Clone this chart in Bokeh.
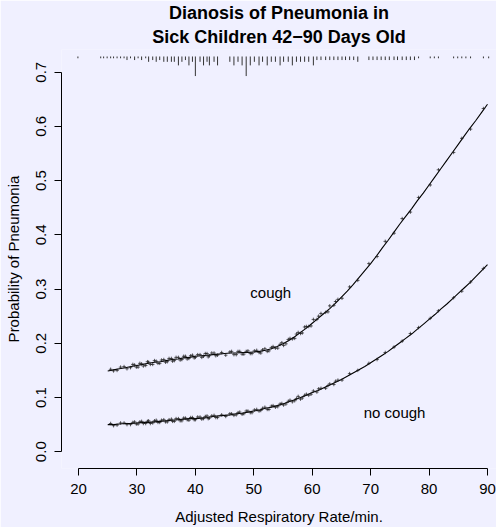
from bokeh.plotting import figure
from bokeh.models import Range1d, FixedTicker, PrintfTickFormatter, Title
from bokeh.core.properties import value
from bokeh.embed import file_html
from bokeh.resources import INLINE

# Fitted probability of pneumonia vs adjusted respiratory rate
rate_grid = list(range(25, 91))
p_cough = [0.149, 0.151, 0.153, 0.155, 0.157, 0.159, 0.161, 0.163, 0.165, 0.166,
           0.168, 0.170, 0.171, 0.173, 0.174, 0.176, 0.177, 0.178, 0.179, 0.180,
           0.181, 0.182, 0.182, 0.183, 0.183, 0.184, 0.185, 0.187, 0.190, 0.194,
           0.199, 0.205, 0.212, 0.220, 0.228, 0.237, 0.246, 0.255, 0.264, 0.274,
           0.285, 0.296, 0.308, 0.321, 0.334, 0.347, 0.361, 0.376, 0.390, 0.405,
           0.420, 0.434, 0.448, 0.463, 0.477, 0.492, 0.507, 0.522, 0.537, 0.552,
           0.567, 0.582, 0.597, 0.611, 0.626, 0.641]
p_no_cough = [0.050, 0.050, 0.051, 0.052, 0.052, 0.053, 0.054, 0.054, 0.055, 0.056,
              0.057, 0.058, 0.059, 0.060, 0.061, 0.061, 0.062, 0.063, 0.065, 0.066,
              0.067, 0.068, 0.070, 0.071, 0.073, 0.075, 0.077, 0.080, 0.082, 0.085,
              0.088, 0.092, 0.096, 0.100, 0.104, 0.109, 0.113, 0.118, 0.123, 0.128,
              0.133, 0.139, 0.145, 0.151, 0.157, 0.164, 0.171, 0.178, 0.185, 0.193,
              0.201, 0.209, 0.217, 0.226, 0.235, 0.244, 0.253, 0.263, 0.272, 0.282,
              0.292, 0.302, 0.312, 0.323, 0.334, 0.345]

# Individual children: rate and their predicted probabilities
obs_rate = [25.5, 26.6, 27.8, 28.9, 29.6, 30.2, 30.8, 31.5, 32.0, 32.7, 33.3, 33.9,
            34.6, 35.2, 35.9, 36.4, 37.1, 37.7, 38.3, 38.9, 39.5, 40.0, 40.8, 41.4,
            42.0, 42.4, 43.2, 43.8, 45.9, 46.6, 47.3, 48.0, 48.7, 49.4, 50.1, 50.9,
            51.5, 52.3, 53.0, 53.7, 54.5, 55.1, 55.9, 56.6, 57.3, 58.0, 58.7, 59.4,
            60.2, 60.8, 61.5, 62.3, 63.0, 63.7, 64.4, 65.1, 66.4, 67.8, 69.7, 71.1,
            72.5, 74.0, 75.4, 76.8, 78.2, 80.2, 81.6, 84.2, 85.6, 87.1, 89.3,
            26.0, 27.2, 28.3, 29.3, 29.9, 30.5, 31.1, 31.8, 32.3, 33.0, 33.6, 34.2,
            34.9, 35.5, 36.1, 36.7, 37.4, 38.0, 38.6, 39.2, 39.8, 40.4, 41.1, 41.7,
            42.2, 42.8, 43.5, 44.5, 45.2, 46.2, 47.0, 47.6, 48.3, 49.0, 49.7, 50.5,
            51.2, 51.9, 52.6, 53.3, 54.1, 54.8, 55.5, 56.2, 57.0, 57.6, 58.3, 59.0,
            59.8, 61.1, 62.7, 64.0]
obs_p_cough = [0.152, 0.150, 0.157, 0.155, 0.160, 0.156, 0.162, 0.159, 0.165, 0.161,
               0.167, 0.163, 0.170, 0.166, 0.172, 0.168, 0.174, 0.170, 0.176, 0.172,
               0.178, 0.174, 0.179, 0.176, 0.181, 0.177, 0.182, 0.178, 0.184, 0.179,
               0.185, 0.180, 0.185, 0.181, 0.186, 0.183, 0.188, 0.185, 0.192, 0.191,
               0.198, 0.196, 0.207, 0.208, 0.217, 0.218, 0.230, 0.231, 0.244, 0.244,
               0.255, 0.257, 0.269, 0.270, 0.281, 0.283, 0.304, 0.316, 0.347, 0.360,
               0.388, 0.403, 0.430, 0.442, 0.469, 0.492, 0.520, 0.552, 0.578, 0.595,
               0.633,
               0.149, 0.156, 0.153, 0.161, 0.156, 0.163, 0.158, 0.166, 0.161, 0.168,
               0.163, 0.169, 0.165, 0.172, 0.167, 0.174, 0.169, 0.176, 0.171, 0.177,
               0.173, 0.179, 0.174, 0.181, 0.175, 0.182, 0.177, 0.183, 0.178, 0.185,
               0.179, 0.185, 0.180, 0.186, 0.181, 0.187, 0.182, 0.190, 0.186, 0.194,
               0.191, 0.201, 0.199, 0.209, 0.209, 0.220, 0.219, 0.231, 0.232, 0.250,
               0.258, 0.277]
obs_p_no_cough = [0.052, 0.049, 0.053, 0.050, 0.055, 0.051, 0.056, 0.052, 0.057, 0.053,
                  0.058, 0.054, 0.059, 0.055, 0.060, 0.056, 0.061, 0.057, 0.062, 0.058,
                  0.063, 0.059, 0.064, 0.061, 0.066, 0.062, 0.067, 0.063, 0.070, 0.067,
                  0.072, 0.069, 0.075, 0.072, 0.077, 0.075, 0.080, 0.078, 0.084, 0.082,
                  0.088, 0.086, 0.093, 0.092, 0.098, 0.097, 0.104, 0.104, 0.112, 0.110,
                  0.117, 0.117, 0.125, 0.124, 0.132, 0.132, 0.144, 0.150, 0.163, 0.170,
                  0.183, 0.193, 0.204, 0.218, 0.229, 0.246, 0.260, 0.284, 0.296, 0.313,
                  0.338,
                  0.048, 0.053, 0.050, 0.054, 0.051, 0.055, 0.052, 0.056, 0.052, 0.057,
                  0.054, 0.058, 0.055, 0.059, 0.056, 0.061, 0.057, 0.062, 0.059, 0.063,
                  0.059, 0.064, 0.060, 0.065, 0.061, 0.066, 0.063, 0.068, 0.065, 0.070,
                  0.068, 0.073, 0.070, 0.075, 0.072, 0.078, 0.076, 0.082, 0.078, 0.085,
                  0.083, 0.089, 0.088, 0.095, 0.094, 0.102, 0.099, 0.106, 0.106, 0.116,
                  0.122, 0.130]

# Distribution of respiratory rate (spike histogram along the top)
rug_rate = [19.9, 23.8, 24.3, 24.9, 25.5, 26.0, 26.6, 27.2, 27.8, 28.3, 28.9, 29.6,
            30.2, 30.8, 31.5, 32.0, 32.7, 33.3, 33.9, 34.6, 35.2, 35.9, 36.4, 37.1,
            37.7, 38.3, 38.9, 39.5, 40.0, 40.8, 41.4, 42.0, 42.4, 43.2, 43.8, 45.9,
            46.6, 47.3, 48.0, 48.7, 49.4, 50.1, 50.9, 51.5, 52.3, 53.0, 53.7, 54.5,
            55.1, 55.9, 56.6, 57.3, 58.0, 58.7, 59.4, 60.2, 60.8, 61.5, 62.3, 63.0,
            63.7, 64.4, 65.1, 65.7, 66.4, 67.1, 67.8, 69.7, 70.4, 71.1, 71.8, 72.5,
            73.2, 74.0, 74.6, 75.4, 76.1, 76.8, 77.5, 78.2, 80.2, 80.9, 81.6, 84.2,
            84.9, 85.6, 86.3, 87.1, 89.3, 90.2]
rug_count = [1, 1, 1, 1, 1, 1, 1, 1, 1, 2, 1, 2,
             1, 2, 1, 3, 2, 3, 2, 3, 3, 3, 3, 5,
             3, 2, 5, 3, 11, 3, 5, 3, 5, 3, 5, 3,
             5, 3, 5, 11, 5, 3, 5, 3, 5, 3, 3, 5,
             3, 3, 5, 3, 3, 3, 3, 5, 2, 2, 2, 2,
             2, 2, 2, 2, 2, 2, 3, 2, 2, 2, 2, 2,
             2, 2, 2, 2, 2, 2, 2, 1, 1, 1, 1, 1,
             1, 1, 1, 1, 1, 1]

x_ticks = [20, 30, 40, 50, 60, 70, 80, 90]
y_ticks = [0.0, 0.1, 0.2, 0.3, 0.4, 0.5, 0.6, 0.7]

BG = "#F0F0FF"
FONT = "Liberation Sans"

p = figure(width=496, height=527,
           x_range=Range1d(17.09, 91.54), y_range=Range1d(-0.031, 0.7419),
           output_backend="svg", toolbar_location=None,
           min_border_left=61, min_border_right=0,
           min_border_top=48, min_border_bottom=55,
           background_fill_color=BG, border_fill_color=BG,
           outline_line_color=None)
p.grid.visible = False

# two-line centred title: the plot title sits on top, the second line below it
p.title.text = "Dianosis of Pneumonia in"
p.title.align = "center"
p.title.text_font = FONT
p.title.text_font_size = "18px"
p.title.text_font_style = "bold"
p.title.text_color = "black"
p.title.standoff = 0
p.add_layout(Title(text="Sick Children 42\u221290 Days Old", align="center",
                   text_font=FONT, text_font_size="18px", text_font_style="bold",
                   text_color="black", standoff=5), "above")

for ax in (p.xaxis[0], p.yaxis[0]):
    ax.axis_line_color = "black"
    ax.major_tick_line_color = "black"
    ax.minor_tick_line_color = None
    ax.major_tick_in = 0
    ax.major_tick_out = 7
    ax.major_label_text_font = FONT
    ax.major_label_text_font_size = "15px"
    ax.major_label_text_color = "black"
    ax.axis_label_text_font = FONT
    ax.axis_label_text_font_size = "15px"
    ax.axis_label_text_font_style = "normal"
    ax.axis_label_text_color = "black"

p.xaxis.major_label_standoff = 8
p.xaxis.axis_label_standoff = 11
p.yaxis.major_label_standoff = 8
p.yaxis.axis_label_standoff = 12

p.xaxis.bounds = (20, 90)
p.xaxis.ticker = FixedTicker(ticks=x_ticks)
p.xaxis.axis_label = "Adjusted Respiratory Rate/min."

p.yaxis.bounds = (0, 0.7)
p.yaxis.ticker = FixedTicker(ticks=y_ticks)
p.yaxis.formatter = PrintfTickFormatter(format="%.1f")
p.yaxis.major_label_orientation = "vertical"
p.yaxis.axis_label = "Probability of Pneumonia"

# fitted curves
p.line(rate_grid, p_cough, line_color="black", line_width=1.1)
p.line(rate_grid, p_no_cough, line_color="black", line_width=1.1)

# individual predictions
p.scatter(obs_rate, obs_p_cough, marker="cross", size=3.5, line_width=0.7,
          line_color="#1a1a1a")
p.scatter(obs_rate, obs_p_no_cough, marker="cross", size=3.5, line_width=0.7,
          line_color="#1a1a1a")

# spike histogram hanging from the top of the panel
rug_base = 0.729
rug_unit = 0.00328
rug_y0 = [rug_base] * len(rug_rate)
rug_y1 = [rug_base - c * rug_unit for c in rug_count]
p.segment(rug_rate, rug_y0, rug_rate, rug_y1, line_color="#333333", line_width=1)

p.text([52.9], [0.293], text=["cough"], text_align="center",
       text_baseline="middle", text_font=value(FONT), text_font_size="15px",
       text_color="black")
p.text([74.1], [0.073], text=["no cough"], text_align="center",
       text_baseline="middle", text_font=value(FONT), text_font_size="15px",
       text_color="black")

open("out.html", "w").write(file_html(p, INLINE))
